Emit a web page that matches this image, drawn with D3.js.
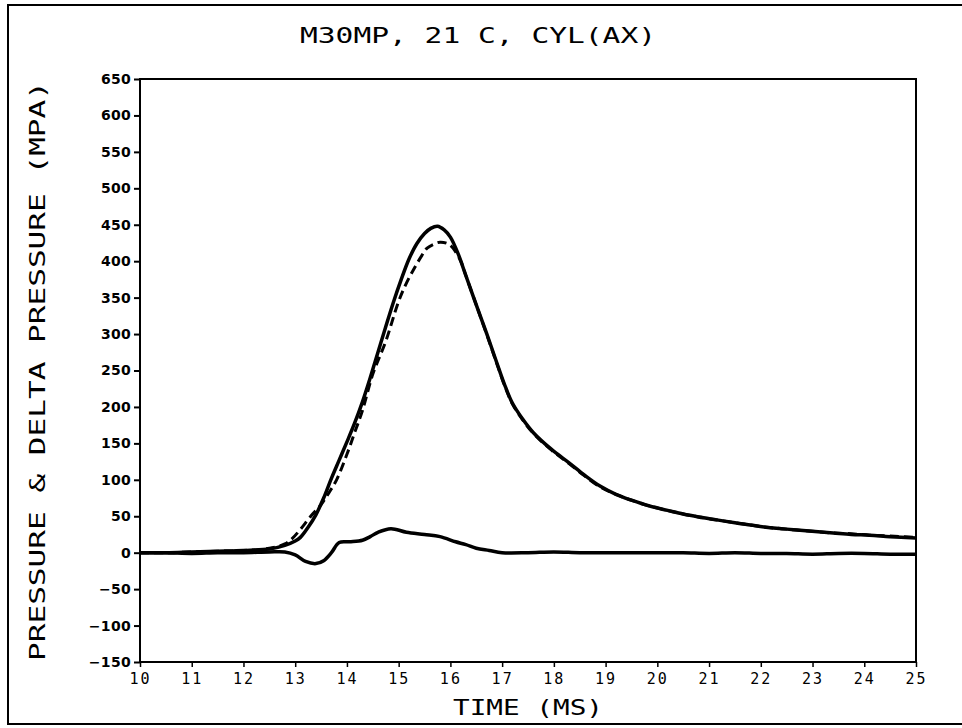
<!DOCTYPE html>
<html>
<head>
<meta charset="utf-8">
<script src="https://cdn.jsdelivr.net/npm/d3@7"></script>
<style>
  html, body { margin: 0; padding: 0; background: #fff; }
  svg { display: block; }
</style>
</head>
<body>
<svg id="chart" width="962" height="728"></svg>
<script>
// ---- data ----
const titleText = "M30MP, 21 C, CYL(AX)";
const xLabel = "TIME (MS)";
const yLabel = "PRESSURE & DELTA PRESSURE (MPA)";
const xTicks = [10,11,12,13,14,15,16,17,18,19,20,21,22,23,24,25];
const yTicks = [650,600,550,500,450,400,350,300,250,200,150,100,50,0,-50,-100,-150];

// pressure (solid)
const pressureT = [10, 10.5, 11, 11.5, 12, 12.5, 12.8, 13.0, 13.1, 13.25, 13.4, 13.55, 13.7, 13.85, 14.0, 14.15, 14.3, 14.45, 14.6, 14.75, 14.9, 15.05, 15.2, 15.35, 15.5, 15.62, 15.75, 15.88, 16.0, 16.15, 16.3, 16.5, 16.7, 16.9, 17.05, 17.2, 17.4, 17.6, 17.95, 18.3, 18.6, 18.9, 19.2, 19.5, 19.85, 20.2, 20.5, 20.8, 21.15, 21.5, 21.8, 22.1, 22.4, 22.7, 23.05, 23.4, 23.75, 24.1, 24.5, 25];
const pressureV = [0, 0, 1, 2, 3, 5, 10, 16, 21, 35, 52, 75, 102, 127, 152, 178, 207, 240, 275, 310, 344, 375, 403, 424, 438, 445, 448, 443, 433, 410, 380, 340, 301, 260, 230, 205, 183, 165, 142, 123, 106, 91, 80, 72, 64, 58, 53, 49, 45, 41, 38, 35, 33, 31, 29, 27, 25, 24, 22, 20];

// pressure (dashed)
const dashedT = [10, 10.5, 11, 11.5, 12, 12.5, 12.8, 12.95, 13.1, 13.3, 13.5, 13.65, 13.8, 14.0, 14.15, 14.3, 14.5, 14.75, 15.0, 15.15, 15.3, 15.45, 15.55, 15.7, 15.8, 15.95, 16.05, 16.2, 16.3, 16.5, 16.7, 16.9, 17.05, 17.2, 17.4, 17.6, 17.95, 18.3, 18.6, 18.9, 19.2, 19.5, 19.85, 20.2, 20.5, 20.8, 21.15, 21.5, 21.8, 22.1, 22.4, 22.7, 23.05, 23.4, 23.75, 24.1, 24.5, 25];
const dashedV = [0, 0, 1, 2, 3, 6, 12, 20, 32, 50, 66, 82, 100, 135, 165, 195, 245, 290, 345, 370, 390, 408, 418, 424, 426, 424, 418, 400, 380, 340, 300, 259, 229, 204, 182, 164, 141, 122, 105, 90, 80, 72, 64, 58, 53, 49, 45, 41, 38, 35, 33, 31, 29, 27, 26, 24, 23, 21];

// delta pressure
const deltaT = [10, 10.5, 11, 11.5, 12, 12.5, 12.8, 13.0, 13.2, 13.4, 13.55, 13.7, 13.85, 14.05, 14.3, 14.45, 14.6, 14.85, 15.15, 15.5, 15.8, 16.1, 16.3, 16.5, 16.75, 17.0, 17.5, 18.0, 18.5, 19.0, 19.5, 20.0, 20.5, 21.0, 21.5, 22.0, 22.5, 23.0, 23.5, 24.0, 24.5, 25];
const deltaV = [0, 0, -1, 0, 0, 1, 1, -3, -12, -15, -11, 0, 14, 15, 17, 22, 28, 33, 28, 25, 22, 15, 11, 6, 3, 0, 0, 1, 0, 0, 0, 0, 0, -1, 0, -1, -1, -2, -1, -1, -2, -2];

// ---- layout ----
const svg = d3.select("#chart");
const x = d3.scaleLinear().domain([10, 25]).range([140, 916]);
const y = d3.scaleLinear().domain([-150, 650]).range([662, 79]);

// outer frame (top, left, bottom)
svg.append("path")
  .attr("d", "M962,5 L8,5 L8,724 L962,724")
  .attr("fill", "none").attr("stroke", "#000").attr("stroke-width", 2);

// plot box
svg.append("rect")
  .attr("x", x(10)).attr("y", y(650))
  .attr("width", x(25) - x(10)).attr("height", y(-150) - y(650))
  .attr("fill", "none").attr("stroke", "#000").attr("stroke-width", 2);

// y axis
const yAxis = d3.axisLeft(y).tickValues(yTicks).tickSize(6).tickPadding(3)
  .tickFormat(d3.format("d"));
const gy = svg.append("g").attr("transform", `translate(${x(10)},0)`).call(yAxis);
gy.select(".domain").remove();
gy.selectAll(".tick line").attr("stroke", "#000").attr("stroke-width", 2);
gy.selectAll(".tick text")
  .attr("font-family", "'DejaVu Sans', sans-serif")
  .attr("font-weight", "bold").attr("font-size", 14)
  .attr("letter-spacing", 0.3).attr("fill", "#000");

// x axis
const xAxis = d3.axisBottom(x).tickValues(xTicks).tickSize(5).tickPadding(6)
  .tickFormat(d3.format("d"));
const gx = svg.append("g").attr("transform", `translate(0,${y(-150)})`).call(xAxis);
gx.select(".domain").remove();
gx.selectAll(".tick line").attr("stroke", "#000").attr("stroke-width", 1.5);
gx.selectAll(".tick text")
  .attr("font-family", "'DejaVu Sans Mono', monospace")
  .attr("font-size", 15).attr("letter-spacing", 2).attr("fill", "#000");

// lines
const line = d3.line().x(d => x(d[0])).y(d => y(d[1])).curve(d3.curveCatmullRom);
const zip = (a, b) => a.map((t, i) => [t, b[i]]);

svg.append("path").datum(zip(deltaT, deltaV))
  .attr("d", line).attr("fill", "none").attr("stroke", "#000").attr("stroke-width", 3.5);
svg.append("path").datum(zip(dashedT, dashedV))
  .attr("d", line).attr("fill", "none").attr("stroke", "#000").attr("stroke-width", 3)
  .attr("stroke-dasharray", "9,5");
svg.append("path").datum(zip(pressureT, pressureV))
  .attr("d", line).attr("fill", "none").attr("stroke", "#000").attr("stroke-width", 3.5);

// title
svg.append("text")
  .attr("x", 300).attr("y", 43)
  .attr("font-family", "'DejaVu Sans Mono', monospace").attr("font-size", 22)
  .attr("textLength", 356).attr("lengthAdjust", "spacingAndGlyphs")
  .attr("fill", "#000").text(titleText);

// x label
svg.append("text")
  .attr("x", 453).attr("y", 715)
  .attr("font-family", "'DejaVu Sans Mono', monospace").attr("font-size", 22)
  .attr("textLength", 150).attr("lengthAdjust", "spacingAndGlyphs")
  .attr("fill", "#000").text(xLabel);

// y label
svg.append("text")
  .attr("transform", "translate(45,661) rotate(-90)")
  .attr("font-family", "'DejaVu Sans Mono', monospace").attr("font-size", 22)
  .attr("textLength", 580).attr("lengthAdjust", "spacingAndGlyphs")
  .attr("fill", "#000").text(yLabel);
</script>
</body>
</html>
